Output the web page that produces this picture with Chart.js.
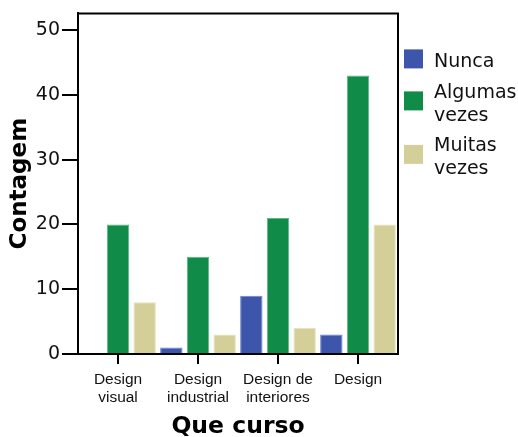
<!DOCTYPE html>
<html>
<head>
<meta charset="utf-8">
<style>
    body { margin: 0; background: #fff; }
    #wrap { width: 518px; height: 437px; }
</style>
</head>
<body>
<div id="wrap"><canvas id="myChart"></canvas></div>

<script src="https://cdn.jsdelivr.net/npm/chart.js"></script>
<script>
    // dados do gráfico
    const categories = [['Design', 'visual'], ['Design', 'industrial'], ['Design de', 'interiores'], ['Design']];
    const nunca = [0, 1, 9, 3];
    const algumasVezes = [20, 15, 21, 43];
    const muitasVezes = [8, 3, 4, 20];
    const seriesNames = [['Nunca'], ['Algumas', 'vezes'], ['Muitas', 'vezes']];
    const seriesColors = ['#3d56ab', '#108c48', '#d4cf99'];
    const edgeColors = ['#6f84c8', '#5cb885', '#e6e2bf'];
    const yMax = 52.6;

    Chart.defaults.font.family = 'DejaVu Sans';
    Chart.defaults.color = '#111';

    // moldura em cima e à direita
    const framePlugin = {
        id: 'frame',
        afterDraw(chart) {
            const a = chart.chartArea;
            const c = chart.ctx;
            c.save();
            c.strokeStyle = '#000';
            c.lineWidth = 2;
            c.beginPath();
            c.moveTo(a.left, a.top);
            c.lineTo(a.right, a.top);
            c.lineTo(a.right, a.bottom);
            c.stroke();
            c.restore();
        }
    };

    // legenda com linhas múltiplas
    const legendPlugin = {
        id: 'multiLegend',
        afterDraw(chart) {
            const a = chart.chartArea;
            const c = chart.ctx;
            const lineH = 23, gap = 7.5, box = 19;
            let y = a.top + 54; // primeira linha de base
            c.save();
            c.font = '19px "DejaVu Sans"';
            c.textBaseline = 'alphabetic';
            chart.data.datasets.forEach((ds, i) => {
                const lines = seriesNames[i];
                const first = y;
                const last = y + (lines.length - 1) * lineH;
                const mid = (first + last) / 2 - 8.5;
                c.fillStyle = ds.backgroundColor;
                c.fillRect(a.right + 6, mid - box / 2, box, box);
                c.fillStyle = '#111';
                lines.forEach((t, k) => c.fillText(t, a.right + 36, first + k * lineH));
                y = last + lineH + gap;
            });
            c.restore();
        }
    };

    const ctx = document.getElementById('myChart');
    const seriesData = [nunca, algumasVezes, muitasVezes];

    const chart = new Chart(ctx, {
        type: 'bar',
        data: {
            labels: categories,
            datasets: seriesData.map((d, i) => ({
                label: seriesNames[i].join(' '),
                data: d,
                backgroundColor: seriesColors[i],
                borderColor: edgeColors[i],
                borderWidth: 1,
                borderSkipped: 'bottom',
                categoryPercentage: 1.0,
                barPercentage: 0.84
            }))
        },
        options: {
            responsive: true,
            maintainAspectRatio: false,
            animation: false,
            layout: { padding: { top: 13, right: 120, left: 0, bottom: 0 } },
            plugins: {
                legend: { display: false },
                tooltip: { enabled: false }
            },
            scales: {
                x: {
                    afterFit(scale) { scale.height = 83; },
                    grid: {
                        display: true,
                        drawOnChartArea: false,
                        drawTicks: true,
                        tickLength: 10,
                        offset: false,
                        color: '#000',
                        lineWidth: 2
                    },
                    border: { display: true, color: '#000', width: 2 },
                    ticks: {
                        color: '#111',
                        font: { family: 'Liberation Sans', size: 15.5, lineHeight: 1.15 },
                        padding: 7,
                        maxRotation: 0,
                        autoSkip: false
                    },
                    title: {
                        display: true,
                        text: 'Que curso',
                        color: '#000',
                        font: { size: 23.5, weight: 'bold', lineHeight: 0.9 },
                        padding: { top: 0, bottom: 0 }
                    }
                },
                y: {
                    min: 0,
                    max: yMax,
                    afterFit(scale) { scale.width = 78; },
                    grid: {
                        display: true,
                        drawOnChartArea: false,
                        drawTicks: true,
                        tickLength: 16,
                        color: '#000',
                        lineWidth: 2
                    },
                    border: { display: true, color: '#000', width: 2 },
                    ticks: {
                        stepSize: 10,
                        includeBounds: false,
                        color: '#111',
                        font: { size: 19 },
                        padding: 2
                    },
                    title: {
                        display: true,
                        text: 'Contagem',
                        color: '#000',
                        font: { size: 23, weight: 'bold', lineHeight: 1.2 },
                        padding: { top: 6, bottom: 0 }
                    }
                }
            }
        },
        plugins: [framePlugin, legendPlugin]
    });
</script>
</body>
</html>
